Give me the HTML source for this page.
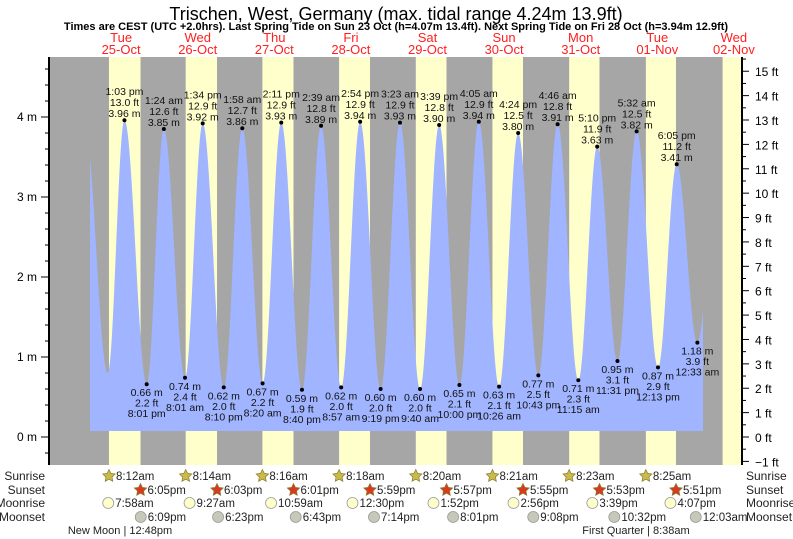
<!DOCTYPE html>
<html><head><meta charset="utf-8"><style>
body{margin:0;background:#fff;}
svg{display:block;font-family:"Liberation Sans",sans-serif;}
</style></head><body>
<svg id="c" width="793" height="539" xmlns="http://www.w3.org/2000/svg">
<text x="396" y="20" font-size="18" text-anchor="middle" fill="#000">Trischen, West, Germany (max. tidal range 4.24m 13.9ft)</text>
<text x="396" y="30" font-size="11" font-weight="bold" text-anchor="middle" fill="#000">Times are CEST (UTC +2.0hrs). Last Spring Tide on Sun 23 Oct (h=4.07m 13.4ft). Next Spring Tide on Fri 28 Oct (h=3.94m 12.9ft)</text>
<g id="bg"></g><g id="tide"></g><g id="axes"></g><g id="labels"></g><g id="bottom"></g>
</svg>
<script>
const dayNames=["Tue","Wed","Thu","Fri","Sat","Sun","Mon","Tue","Wed"];
const dayDates=["25-Oct","26-Oct","27-Oct","28-Oct","29-Oct","30-Oct","31-Oct","01-Nov","02-Nov"];
const sunrise=["8:12am","8:14am","8:16am","8:18am","8:20am","8:21am","8:23am","8:25am","8:27am"];
const sunset=["6:05pm","6:03pm","6:01pm","5:59pm","5:57pm","5:55pm","5:53pm","5:51pm"];
const moonrise=["7:58am","9:27am","10:59am","12:30pm","1:52pm","2:56pm","3:39pm","4:07pm"];
const moonset=["6:09pm","6:23pm","6:43pm","7:14pm","8:01pm","9:08pm","10:32pm","12:03am"];
const moonsetDay=[0,1,2,3,4,5,6,8];
// tide extremes: hours since 25-Oct 00:00, heights in m
const tideHours=[0.6,7.8,13.05,20.02,25.4,32.02,37.57,44.17,49.97,56.33,62.18,68.67,74.65,80.95,86.9,93.32,99.38,105.67,111.65,118,124.08,130.43,136.4,142.72,148.77,155.25,161.17,167.52,173.53,180.22,186.08,192.55,199];
const tideHeights=[3.88,0.80,3.96,0.66,3.85,0.74,3.92,0.62,3.86,0.67,3.93,0.59,3.89,0.62,3.94,0.60,3.93,0.60,3.90,0.65,3.94,0.63,3.80,0.77,3.91,0.71,3.63,0.95,3.82,0.87,3.41,1.18,3.5];
const tideTimes=["","","1:03 pm","8:01 pm","1:24 am","8:01 am","1:34 pm","8:10 pm","1:58 am","8:20 am","2:11 pm","8:40 pm","2:39 am","8:57 am","2:54 pm","9:19 pm","3:23 am","9:40 am","3:39 pm","10:00 pm","4:05 am","10:26 am","4:24 pm","10:43 pm","4:46 am","11:15 am","5:10 pm","11:31 pm","5:32 am","12:13 pm","6:05 pm","12:33 am",""];
const leftTicks=[0,1,2,3,4];
const rightTicks=[-1,0,1,2,3,4,5,6,7,8,9,10,11,12,13,14,15];
const NS="http://www.w3.org/2000/svg";
const X0=49,X1=742,Y0=57,Y1=465,MID=82.8,DW=76.6;
const xH=h=>MID+h/24*DW;
const yM=m=>437-m*80;
const yF=f=>437-f*0.3048*80;
function tp(s){const m=s.match(/(\d+):(\d+)\s*(am|pm)/);let h=+m[1]%12;if(m[3]=="pm")h+=12;return h+(+m[2])/60;}
function mk(par,tag,at,txt){const e=document.createElementNS(NS,tag);for(const k in at)e.setAttribute(k,at[k]);if(txt!==undefined)e.textContent=txt;document.getElementById(par).appendChild(e);return e;}
let r=mk("bg","rect",{x:X0,y:Y0,width:X1-X0,height:Y1-Y0,fill:"#a6a6a6"});


for(let d=0;d<9;d++){
 const a=xH(d*24+tp(sunrise[d])),b=d<8?xH(d*24+tp(sunset[d])):X1;
 const e=mk("bg","rect",{x:a,y:Y0,width:Math.min(b,X1)-a,height:Y1-Y0,fill:"#ffffcc"});
 
 
 const cx=Math.min(xH(d*24+12),742);
 const t1=mk("bg","text",{x:cx,y:42,"font-size":13,fill:"#ff2020","text-anchor":"middle"},dayNames[d]);
 
 
 const t2=mk("bg","text",{x:cx,y:54,"font-size":13,fill:"#ff2020","text-anchor":"middle"},dayDates[d]);
 
 
}
const FX0=90,FX1=703,FB=431;
let pts=[];
for(let x=FX0;x<=FX1;x+=0.5){
 const h=(x-MID)/DW*24;let i=0;while(i<tideHours.length-2&&tideHours[i+1]<h)i++;
 const f=(h-tideHours[i])/(tideHours[i+1]-tideHours[i]);
 const v=tideHeights[i]+(tideHeights[i+1]-tideHeights[i])*(1-Math.cos(Math.PI*f))/2;
 pts.push(x.toFixed(1)+","+yM(v).toFixed(1));
}
const poly=mk("tide","polygon",{points:FX0+","+FB+" "+pts.join(" ")+" "+FX1+","+FB,fill:"#a0b4ff"});


let ax=mk("axes","line",{x1:X0,y1:Y0,x2:X0,y2:Y1,stroke:"#000","stroke-width":2});


ax=mk("axes","line",{x1:X1,y1:Y0,x2:X1,y2:Y1,stroke:"#000","stroke-width":2});


for(let m=-0.2;m<=4.8;m+=0.2){const y=yM(m);if(y<Y0||y>Y1)continue;mk("axes","line",{x1:X0-4,y1:y,x2:X0,y2:y,stroke:"#000"});}
leftTicks.forEach(m=>{const y=yM(m);mk("axes","line",{x1:X0-8,y1:y,x2:X0,y2:y,stroke:"#000"});
 const t=mk("axes","text",{x:X0-12,y:y+4,"font-size":12,"text-anchor":"end",fill:"#000"},m+" m");
 
 });
rightTicks.forEach(f=>{const y=yF(f);mk("axes","line",{x1:X1,y1:y,x2:X1+7,y2:y,stroke:"#000"});
 const yh=yF(f+0.5);if(yh>Y0)mk("axes","line",{x1:X1,y1:yh,x2:X1+4,y2:yh,stroke:"#000"});
 const t=mk("axes","text",{x:X1+13,y:y+5,"font-size":12,fill:"#000"},(f<0?"\u2212"+(-f):f)+" ft");
 
 });
for(let i=0;i<tideHours.length;i++){
 if(!tideTimes[i])continue;
 const x=xH(tideHours[i]),y=yM(tideHeights[i]),hi=tideHeights[i]>2;
 const d=mk("labels","circle",{cx:x,cy:y,r:2,fill:"#000"});
 
 
 const ft=(tideHeights[i]/0.3048).toFixed(1)+" ft",m=tideHeights[i].toFixed(2)+" m";
 const lines=hi?[tideTimes[i],ft,m]:[m,ft,tideTimes[i]];
 const g=mk("labels","text",{"font-size":10.5,"text-anchor":"middle",fill:"#111"});
 
 
 lines.forEach((s,k)=>{const ts=document.createElementNS(NS,"tspan");ts.setAttribute("x",x);
  ts.setAttribute("y",hi?y-25+k*11:y+12+k*10.5);ts.textContent=s;g.appendChild(ts);});
}
const rowY=[476,490,503,517];
["Sunrise","Sunset","Moonrise","Moonset"].forEach((s,k)=>{
 let t=mk("bottom","text",{x:45,y:rowY[k]+4,"font-size":12,"text-anchor":"end",fill:"#222"},s);
 
 
 t=mk("bottom","text",{x:746,y:rowY[k]+4,"font-size":12,fill:"#222"},s);
 
 
});
function star(x,y,fill){let p=[];for(let i=0;i<10;i++){const a=-Math.PI/2+i*Math.PI/5,rr=i%2?3.2:6.5;p.push((x+rr*Math.cos(a)).toFixed(1)+","+(y+rr*Math.sin(a)).toFixed(1));}
 return mk("bottom","polygon",{points:p.join(" "),fill:fill,stroke:"#8a7a30","stroke-width":0.7});}
function item(arr,k,dayIdx,kind){
 arr.forEach((s,d)=>{const dd=dayIdx?dayIdx[d]:d;const x=xH(dd*24+tp(s));if(x>X1)return;const y=rowY[k];
  let ic;if(kind=="sun"||kind=="set")ic=star(x,y,kind=="sun"?"#c8bb4a":"#d83a20");
  else ic=mk("bottom","circle",{cx:x,cy:y,r:5.5,fill:kind=="mr"?"#ffffcc":"#c8c8b8",stroke:"#999","stroke-width":0.8});
  
  
  const t=mk("bottom","text",{x:x+7,y:y+4,"font-size":11.5,fill:"#222"},s);
  
  });
}
item(sunrise.slice(0,8),0,null,"sun");item(sunset,1,null,"set");item(moonrise,2,null,"mr");item(moonset,3,moonsetDay,"ms");
let t=mk("bottom","text",{x:120,y:534,"font-size":11,"text-anchor":"middle",fill:"#222"},"New Moon | 12:48pm");


t=mk("bottom","text",{x:636,y:534,"font-size":11,"text-anchor":"middle",fill:"#222"},"First Quarter | 8:38am");


</script>
</body></html>
